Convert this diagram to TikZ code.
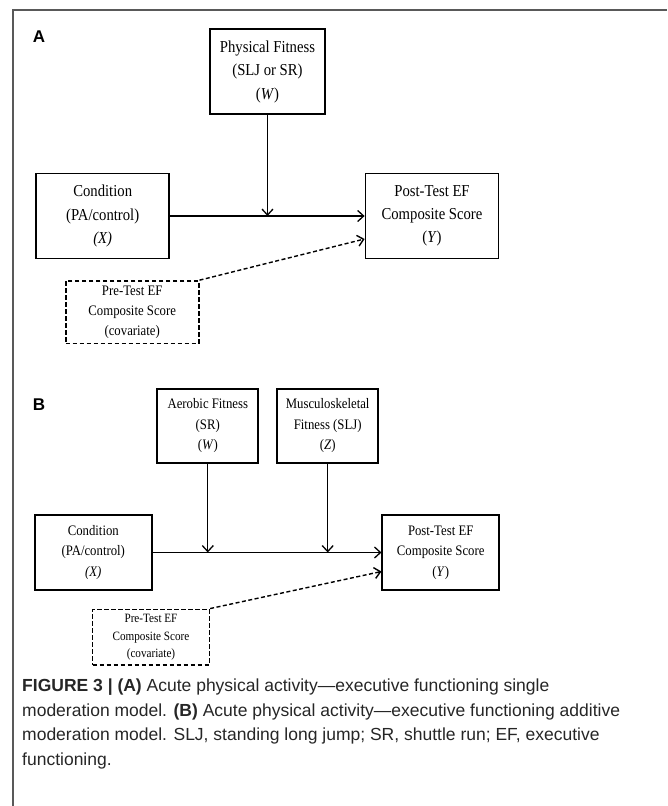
\documentclass[tikz,border=0pt]{standalone}
\usepackage{fontspec}
\setmainfont{Liberation Serif}
\setsansfont{Liberation Sans}
\newfontfamily\boxfont[FakeStretch=0.88]{Liberation Serif}
\usepackage{tikz}
\usetikzlibrary{arrows.meta}
\newcommand{\bigtxt}{\boxfont\fontsize{16.7}{23.3}\selectfont}
\newcommand{\midtxt}{\boxfont\fontsize{14.5}{20.4}\selectfont}
\newcommand{\smalltxt}{\boxfont\fontsize{12.7}{17.5}\selectfont}
\tikzstyle{var}       = [draw, line width=1.8pt, rectangle, align=center, inner sep=0pt]
\tikzstyle{cov}       = [var, line width=1.6pt, dash pattern=on 4.5pt off 2.5pt]
\tikzstyle{arrow}     = [line width=1.3pt, -{Straight Barb[length=6pt,width=11pt]}]
\tikzstyle{dasharrow} = [arrow, line width=1.4pt, dash pattern=on 4pt off 2.5pt]
\tikzstyle{panel}     = [font=\sffamily\bfseries\fontsize{17}{17}\selectfont, inner sep=0pt]

\begin{document}
\begin{tikzpicture}[x=1pt,y=-1pt]
  \useasboundingbox (0,0) rectangle (667,806);
  \draw[line width=1.4pt, black!65] (13,806) -- (13,10) -- (667,10);

  %single moderation model
  \node[panel] (labA) at (39,37) {A};
  \node[var, minimum width=115pt, minimum height=85pt, font=\bigtxt] (fitA) at (267.5,71.7)
    {Physical Fitness\\(SLJ or SR)\\(\textit{W})};
  \node[var, minimum width=133pt, minimum height=85pt, font=\bigtxt] (condA) at (102.7,216)
    {Condition\\(PA/control)\\\textit{(X)}};
  \node[var, minimum width=133pt, minimum height=85pt, font=\bigtxt] (postA) at (432,216)
    {Post-Test EF\\Composite Score\\(\textit{Y})};
  \node[cov, minimum width=133pt, minimum height=62.7pt, font=\midtxt] (preA) at (132.2,312.3)
    {Pre-Test EF\\Composite Score\\(covariate)};
  \coordinate (hitA) at (fitA.south |- condA.east);

  \draw[arrow] (condA) -- (postA);
  \draw[arrow] (fitA) -- (hitA);
  \draw[dasharrow] (preA.north east) -- ([yshift=-23pt]postA.west);

  %additive moderation model
  \node[panel] (labB) at (39,405) {B};
  \node[var, minimum width=101pt, minimum height=74pt, font=\midtxt] (aerB) at (207.8,425.7)
    {Aerobic Fitness\\(SR)\\(\textit{W})};
  \node[var, minimum width=101pt, minimum height=74pt, font=\midtxt] (musB) at (327.7,425.7)
    {Musculoskeletal\\Fitness (SLJ)\\(\textit{Z})};
  \node[var, minimum width=116.7pt, minimum height=74.3pt, font=\midtxt] (condB) at (93.3,552.5)
    {Condition\\(PA/control)\\\textit{(X)}};
  \node[var, minimum width=116.7pt, minimum height=74.3pt, font=\midtxt] (postB) at (440.7,552.5)
    {Post-Test EF\\Composite Score\\(\textit{Y})};
  \node[cov, minimum width=116.7pt, minimum height=55.7pt, font=\smalltxt] (preB) at (151,637.2)
    {Pre-Test EF\\Composite Score\\(covariate)};

  \draw[arrow] (condB) -- (postB);
  \foreach \m in {aerB,musB}{
    \coordinate (\m-hit) at (\m.south |- condB.east);
    \draw[arrow] (\m) -- (\m-hit);
  }
  \draw[dasharrow] (preB.north east) -- ([yshift=-19pt]postB.west);

  %caption
  \node[anchor=north west, inner sep=0pt, align=left, text=black!85,
        font=\sffamily\fontsize{17.5}{24.4}\selectfont] (capt) at (22,679)
    {\textbf{FIGURE 3 | (A)} Acute physical activity---executive functioning single\\
     moderation model. \textbf{(B)} Acute physical activity---executive functioning additive\\
     moderation model. SLJ, standing long jump; SR, shuttle run; EF, executive\\
     functioning.};
\end{tikzpicture}
\end{document}
